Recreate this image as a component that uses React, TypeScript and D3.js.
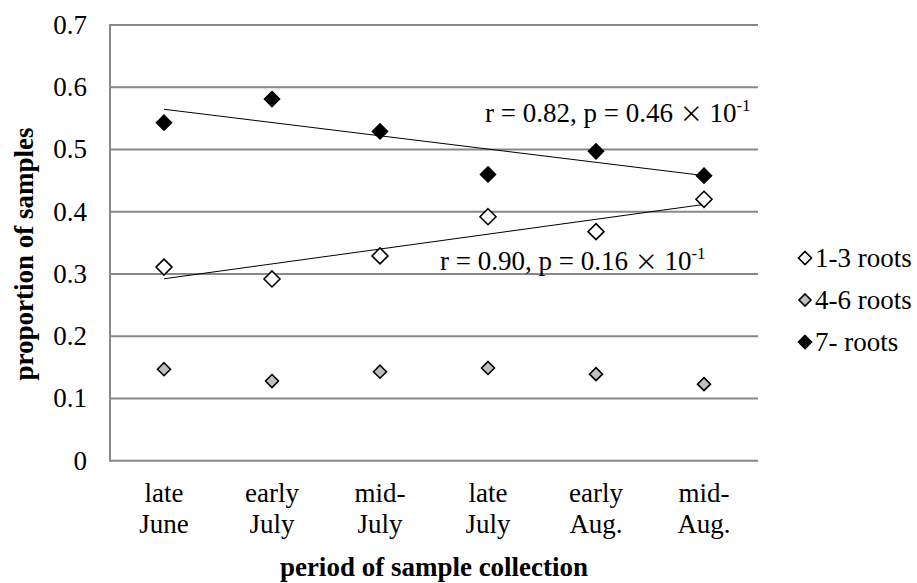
import React from 'react';
import * as d3 from 'd3';

const periods = ['late June', 'early July', 'mid-July', 'late July', 'early Aug.', 'mid-Aug.'];
const periodLines = [['late', 'June'], ['early', 'July'], ['mid-', 'July'], ['late', 'July'], ['early', 'Aug.'], ['mid-', 'Aug.']];
const roots13 = [0.311, 0.292, 0.329, 0.392, 0.368, 0.420];
const roots46 = [0.147, 0.128, 0.143, 0.149, 0.139, 0.123];
const roots7 = [0.543, 0.581, 0.529, 0.460, 0.497, 0.458];
const yTicks = [0, 0.1, 0.2, 0.3, 0.4, 0.5, 0.6, 0.7];

const width = 917;
const height = 583;
const left = 110;
const right = 758;
const top = 25;
const bottom = 460.7;
const font = '"Liberation Serif", "Times New Roman", serif';
const grid = '#888888';
const fs = 27;

// least squares fit over the period index
const fit = (vals: number[]) => {
  const xs = vals.map((_, i) => i);
  const mx = d3.mean(xs)!;
  const my = d3.mean(vals)!;
  const sxy = d3.sum(xs, (x, i) => (x - mx) * (vals[i] - my));
  const sxx = d3.sum(xs, x => (x - mx) ** 2);
  const b = sxy / sxx;
  return (x: number) => my + b * (x - mx);
};

const diamond = (cx: number, cy: number, r: number) =>
  `M${cx},${cy - r}L${cx + r},${cy}L${cx},${cy + r}L${cx - r},${cy}Z`;

const series = [
  { name: '1-3 roots', values: roots13, fill: '#ffffff', r: 8, lr: 6.5 },
  { name: '4-6 roots', values: roots46, fill: '#bfbfbf', r: 6.5, lr: 6 },
  { name: '7- roots', values: roots7, fill: '#000000', r: 7.5, lr: 6.5 },
];

const Stat = ({ x, y, r, p }: { x: number; y: number; r: string; p: string }) => (
  <text x={x} y={y} fontSize={fs}>
    r = {r}, p = {p} <tspan fontFamily='"Noto Sans CJK JP", sans-serif' fontSize={23}>{'\u00d7'}</tspan> 10
    <tspan fontSize={17} dy={-11}>-1</tspan>
  </text>
);

export default function App() {
  const x = d3.scaleBand().domain(periods).range([left, right]);
  const cx = (i: number) => x(periods[i])! + x.bandwidth() / 2;
  const y = d3.scaleLinear().domain([0, 0.7]).range([bottom, top]);

  const f13 = fit(roots13);
  const f7 = fit(roots7);
  const last = periods.length - 1;

  return (
    <svg width={width} height={height} style={{ position: 'absolute', left: 0, top: 0, background: '#fff' }}
      fontFamily={font}>
      {yTicks.filter(t => t > 0).map(t => (
        <line key={t} x1={left} x2={right} y1={y(t)} y2={y(t)} stroke={grid} strokeWidth={2} />
      ))}
      <line x1={left} x2={right} y1={bottom} y2={bottom} stroke={grid} strokeWidth={2} />
      <line x1={left} x2={left} y1={top - 1} y2={bottom + 1} stroke={grid} strokeWidth={2} />

      {yTicks.map(t => (
        <text key={t} x={87} y={y(t) + 9} textAnchor="end" fontSize={fs}>{t === 0 ? '0' : t.toFixed(1)}</text>
      ))}

      {periodLines.map((lines, i) => (
        <text key={i} x={cx(i)} textAnchor="middle" fontSize={fs}>
          <tspan x={cx(i)} y={502}>{lines[0]}</tspan>
          <tspan x={cx(i)} y={533}>{lines[1]}</tspan>
        </text>
      ))}

      <line x1={cx(0)} x2={cx(last)} y1={y(f7(0))} y2={y(f7(last))} stroke="#000" strokeWidth={1} />
      <line x1={cx(0)} x2={cx(last)} y1={y(f13(0))} y2={y(f13(last))} stroke="#000" strokeWidth={1} />

      {series.map(s => s.values.map((v, i) => (
        <path key={s.name + i} d={diamond(cx(i), y(v), s.r)} fill={s.fill} stroke="#000" strokeWidth={1.6} />
      )))}

      <Stat x={485} y={122} r="0.82" p="0.46" />
      <Stat x={440} y={270} r="0.90" p="0.16" />

      {series.map((s, i) => (
        <g key={s.name} transform={`translate(805,${258 + i * 42})`}>
          <path d={diamond(0, 0, s.lr)} fill={s.fill} stroke="#000" strokeWidth={1.6} />
          <text x={10} y={8.5} fontSize={fs}>{s.name}</text>
        </g>
      ))}

      <text transform={`translate(33,254) rotate(-90)`} textAnchor="middle" fontSize={fs}
        fontWeight="bold">proportion of samples</text>
      <text x={(left + right) / 2} y={576} textAnchor="middle" fontSize={fs} fontWeight="bold">
        period of sample collection
      </text>
    </svg>
  );
}
